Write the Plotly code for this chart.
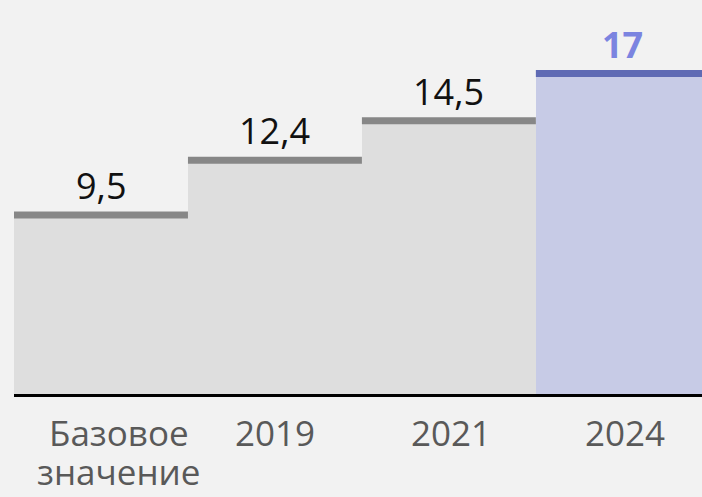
import plotly.graph_objects as go

categories = ["Базовое<br>значение", "2019", "2021", "2024"]
values = [9.5, 12.4, 14.5, 17]
labels = ["9,5", "12,4", "14,5", "17"]

fill_colors = ["#dedede", "#dedede", "#dedede", "#c7cbe6"]
top_colors = ["#878787", "#878787", "#878787", "#5f6ab4"]
label_colors = ["#111111", "#111111", "#111111", "#7b84e0"]
label_weights = ["normal", "normal", "normal", "bold"]
cat_xshift = [18, 0, 2, 2]

FONT = "Open Sans"
xs = list(range(len(categories)))

fig = go.Figure()
fig.add_trace(go.Bar(
    x=xs, y=values, width=1,
    marker=dict(color=fill_colors, line=dict(width=0)),
    hoverinfo="skip",
))
for i, v in enumerate(values):
    fig.add_trace(go.Scatter(
        x=[i - 0.5, i + 0.5], y=[v, v], mode="lines",
        line=dict(color=top_colors[i], width=7),
        hoverinfo="skip", cliponaxis=True,
    ))
    fig.add_annotation(
        x=i, y=v, xref="x", yref="y", text=labels[i], showarrow=False,
        yanchor="bottom", yshift=3,
        font=dict(family=FONT, size=36, color=label_colors[i], weight=label_weights[i]),
    )

# category labels (one annotation per text line for tight line spacing)
for i, cat in enumerate(categories):
    for k, line in enumerate(cat.split("<br>")):
        fig.add_annotation(
            x=i, y=0, xref="x", yref="y", text=line, showarrow=False,
            yanchor="top", yshift=-13 - 39 * k, xshift=cat_xshift[i],
            font=dict(family=FONT, size=35, color="#595959"),
        )

fig.update_layout(
    width=702, height=497,
    margin=dict(l=14, r=0, t=0, b=103),
    paper_bgcolor="#f2f2f2", plot_bgcolor="#f2f2f2",
    showlegend=False, bargap=0,
    xaxis=dict(
        range=[-0.5, 3.455], tickvals=xs, showticklabels=False,
        showline=True, linecolor="#000000", linewidth=3,
        showgrid=False, zeroline=False, ticks="",
    ),
    yaxis=dict(range=[0, 20.9], visible=False, showgrid=False, zeroline=False),
)

fig.write_html(
    "out.html",
    config={"displayModeBar": False},
    post_script="document.body.style.margin='0';document.body.style.background='#f2f2f2';",
)
